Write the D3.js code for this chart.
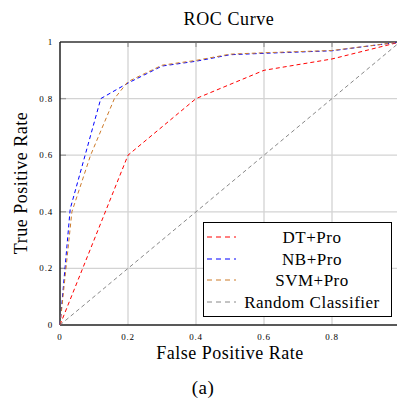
<!DOCTYPE html>
<html>
<head>
<meta charset="utf-8">
<script src="https://cdn.jsdelivr.net/npm/d3@7"></script>
<style>
  body { margin: 0; background: #fff; }
  text { font-family: "Liberation Serif", "DejaVu Serif", serif; fill: #000; }
</style>
</head>
<body>
<svg id="chart" width="397" height="402"></svg>
<script>
  const series_names = ['DT+Pro', 'NB+Pro', 'SVM+Pro', 'Random Classifier'];
  const series_colors = ['#ff0000', '#0000ff', '#cc7a29', '#888888'];

  // [false positive rate, true positive rate]
  const dt_points  = [[0, 0], [0.2, 0.6], [0.4, 0.8], [0.6, 0.9], [0.8, 0.94], [1, 1]];
  const nb_points  = [[0, 0], [0.03, 0.41], [0.12, 0.8], [0.2, 0.855], [0.3, 0.915], [0.4, 0.932], [0.5, 0.955], [0.6, 0.96], [0.8, 0.969], [1, 1]];
  const svm_points = [[0, 0], [0.035, 0.4], [0.09, 0.6], [0.16, 0.8], [0.2, 0.86], [0.3, 0.918], [0.4, 0.935], [0.5, 0.957], [0.6, 0.962], [0.8, 0.97], [1, 1]];
  const rnd_points = [[0, 0], [1, 1]];

  const x_ticks = [0, 0.2, 0.4, 0.6, 0.8];
  const y_ticks = [0, 0.2, 0.4, 0.6, 0.8, 1];

  const svg = d3.select('#chart');

  const plot_left = 60, plot_right = 400, plot_top = 42, plot_bottom = 325;
  const x = d3.scaleLinear().domain([0, 1]).range([plot_left, plot_right]);
  const y = d3.scaleLinear().domain([0, 1]).range([plot_bottom, plot_top]);

  // grid
  const grid = svg.append('g');
  grid.selectAll('line.gx').data(x_ticks.slice(1)).join('line')
    .attr('x1', d => x(d)).attr('x2', d => x(d))
    .attr('y1', plot_top).attr('y2', plot_bottom)
    .attr('stroke', '#d3d3d3').attr('stroke-width', 1.3);
  grid.selectAll('line.gy').data(y_ticks.slice(1, -1)).join('line')
    .attr('x1', plot_left).attr('x2', plot_right)
    .attr('y1', d => y(d)).attr('y2', d => y(d))
    .attr('stroke', '#d3d3d3').attr('stroke-width', 1.3);

  // small tick marks
  const ticks = svg.append('g');
  ticks.selectAll('line.tx').data(x_ticks.slice(1)).join('line')
    .attr('x1', d => x(d)).attr('x2', d => x(d))
    .attr('y1', plot_top).attr('y2', plot_top + 5)
    .attr('stroke', '#9a9a9a').attr('stroke-width', 1.3);
  ticks.selectAll('line.ty').data(y_ticks.slice(1, -1)).join('line')
    .attr('x1', plot_left).attr('x2', plot_left + 6)
    .attr('y1', d => y(d)).attr('y2', d => y(d))
    .attr('stroke', '#9a9a9a').attr('stroke-width', 1.3);

  // frame
  svg.append('line').attr('x1', plot_left).attr('x2', plot_right).attr('y1', plot_top).attr('y2', plot_top)
    .attr('stroke', '#666').attr('stroke-width', 1.8);
  svg.append('line').attr('x1', plot_left).attr('x2', plot_right).attr('y1', plot_bottom).attr('y2', plot_bottom)
    .attr('stroke', '#222').attr('stroke-width', 1.5);
  svg.append('line').attr('x1', plot_left).attr('x2', plot_left).attr('y1', plot_top).attr('y2', plot_bottom)
    .attr('stroke', '#222').attr('stroke-width', 1.5);

  // curves
  const line = d3.line().x(d => x(d[0])).y(d => y(d[1]));
  const all_points = [dt_points, nb_points, svm_points, rnd_points];
  const draw_order = [3, 0, 1, 2];
  draw_order.forEach(function (i) {
    svg.append('path')
      .attr('d', line(all_points[i]))
      .attr('fill', 'none')
      .attr('stroke', series_colors[i])
      .attr('stroke-width', 1)
      .attr('stroke-dasharray', '4,3');
  });

  // tick labels
  svg.selectAll('text.xl').data(x_ticks).join('text')
    .attr('x', d => x(d)).attr('y', 340)
    .attr('text-anchor', 'middle')
    .style('font-size', '9px').style('letter-spacing', '0.8px')
    .text(d => d3.format('')(d));
  svg.selectAll('text.yl').data(y_ticks).join('text')
    .attr('x', 53).attr('y', d => y(d) + 3)
    .attr('text-anchor', 'end')
    .style('font-size', '9px').style('letter-spacing', '0.8px')
    .text(d => d3.format('')(d));

  // titles
  svg.append('text').attr('x', 229).attr('y', 25).attr('text-anchor', 'middle')
    .style('font-size', '18px').style('letter-spacing', '0.6px').text('ROC Curve');
  svg.append('text').attr('x', 230).attr('y', 359).attr('text-anchor', 'middle')
    .style('font-size', '18px').style('letter-spacing', '0.5px').text('False Positive Rate');
  svg.append('text').attr('transform', 'translate(27,183) rotate(-90)').attr('text-anchor', 'middle')
    .style('font-size', '18px').style('letter-spacing', '0.5px').text('True Positive Rate');
  svg.append('text').attr('x', 203).attr('y', 394).attr('text-anchor', 'middle')
    .style('font-size', '19px').style('letter-spacing', '0.5px').text('(a)');

  // legend
  const legend = svg.append('g');
  legend.append('rect').attr('x', 203.5).attr('y', 222.5).attr('width', 188).attr('height', 94)
    .attr('fill', '#fff').attr('stroke', '#000').attr('stroke-width', 1);
  const row_y = [237, 259, 280, 302];
  series_names.forEach(function (name, i) {
    legend.append('line')
      .attr('x1', 207).attr('x2', 236).attr('y1', row_y[i]).attr('y2', row_y[i])
      .attr('stroke', series_colors[i]).attr('stroke-width', 1)
      .attr('stroke-dasharray', '5,4');
    legend.append('text')
      .attr('x', 312).attr('y', row_y[i] + 6)
      .attr('text-anchor', 'middle')
      .style('font-size', '17px').style('letter-spacing', '0.5px')
      .text(name);
  });
</script>
</body>
</html>
